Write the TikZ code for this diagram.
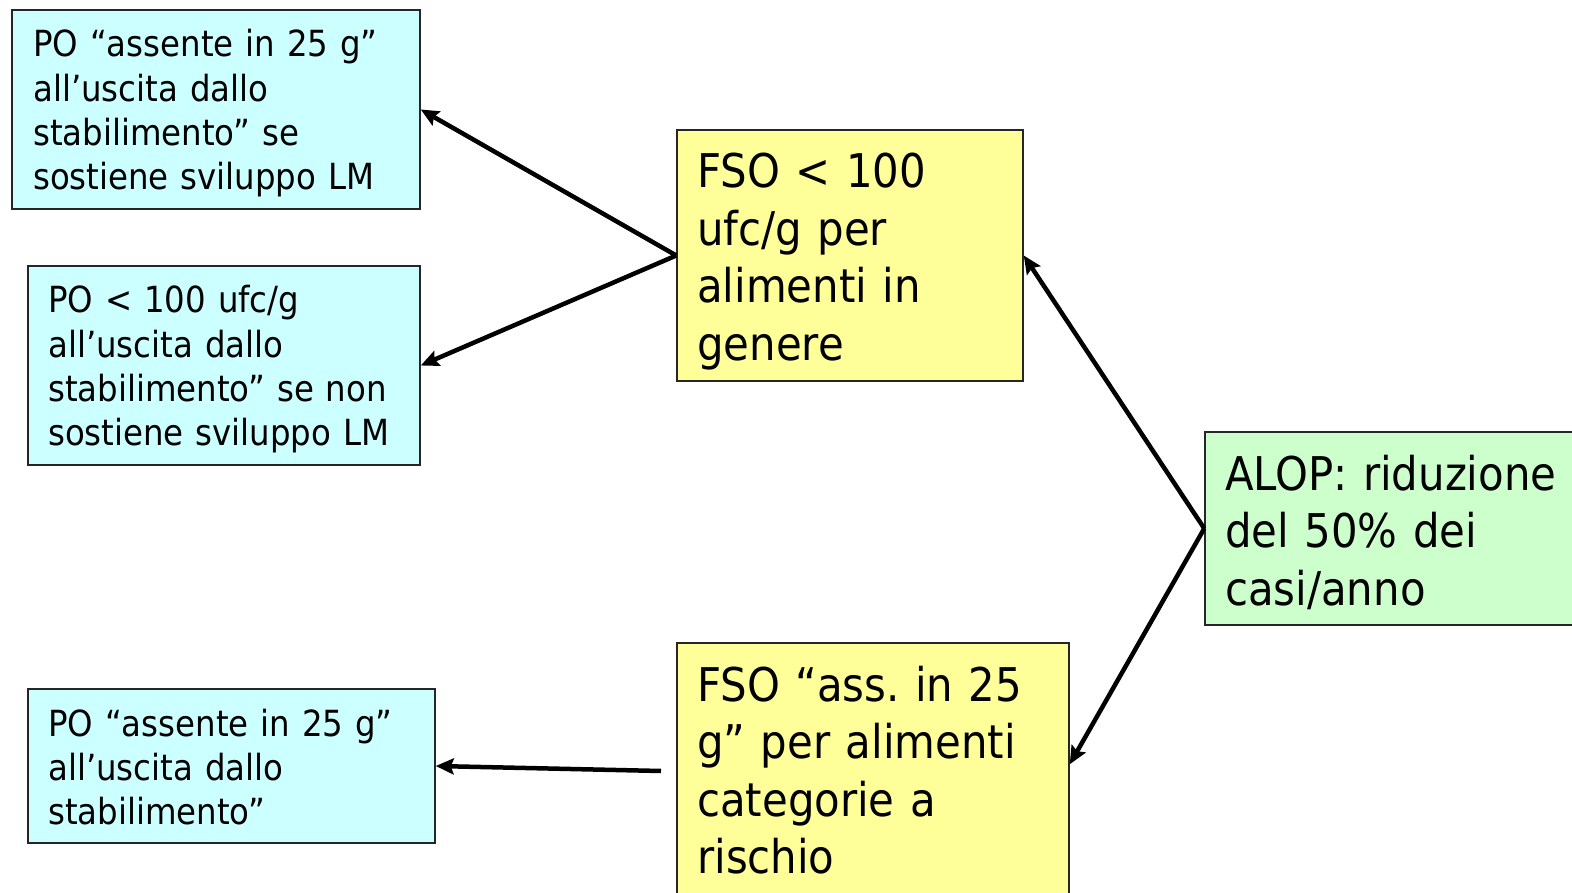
\documentclass[tikz,border=0pt]{standalone}
\usepackage{fontspec}
\setmainfont{DejaVu Sans Condensed}
\usetikzlibrary{arrows.meta,fit}
\definecolor{cyanbox}{HTML}{CCFFFF}
\definecolor{yelbox}{HTML}{FFFF99}
\definecolor{grnbox}{HTML}{CCFFCC}
\begin{document}
\frenchspacing
\begin{tikzpicture}[x=1pt,y=-1pt,
  box/.style={draw=black!85, line width=1.5pt, inner sep=0pt},
  txts/.style={anchor=base west, inner sep=0pt, align=left, text width=420pt, font=\fontsize{36}{44.3}\selectfont},
  txtl/.style={anchor=base west, inner sep=0pt, align=left, text width=420pt, font=\fontsize{46.5}{57.5}\selectfont},
  arr/.style={line width=4.5pt, -{Stealth[length=18pt,width=16pt,inset=3pt]}}]
\clip (0,0) rectangle (1572,893);
\fill[white] (0,0) rectangle (1572,893);
% boxes
\node[box, fill=cyanbox, fit={(12,10) (420,209)}] (c1) {};
\node[box, fill=cyanbox, fit={(28,266) (420,465)}] (c2) {};
\node[box, fill=cyanbox, fit={(28,689) (435,843)}] (c3) {};
\node[box, fill=yelbox, fit={(677,130) (1023,381)}] (y1) {};
\node[box, fill=yelbox, fit={(677,643) (1069,940)}] (y2) {};
\node[box, fill=grnbox, fit={(1205,432) (1620,625)}] (g) {};
% texts
\node[txts] (tc1) at (33,57) {PO “assente in 25 g”\\all’uscita dallo\\stabilimento” se\\sostiene sviluppo LM};
\node[txts] (tc2) at (48,313) {PO < 100 ufc/g\\all’uscita dallo\\stabilimento” se non\\sostiene sviluppo LM};
\node[txts] (tc3) at (48,736) {PO “assente in 25 g”\\all’uscita dallo\\stabilimento”};
\node[txtl] (ty1) at (697,188) {FSO < 100\\ufc/g per\\alimenti in\\genere};
\node[txtl] (ty2) at (697,701) {FSO “ass. in 25\\g” per alimenti\\categorie a\\rischio};
\node[txtl] (tg) at (1225,490) {ALOP: riduzione\\del 50\% dei\\casi/anno};
% connectors
\draw[arr] (y1.west) -- (c1.east);
\draw[arr] (y1.west) -- (c2.east);
\draw[arr] (g.west) -- (y1.east);
\draw[arr] (g.west) -- ([yshift=-122pt]y2.north east);
\coordinate (s) at (661,771);
\draw[arr] (s) -- (c3.east);
\end{tikzpicture}
\end{document}
